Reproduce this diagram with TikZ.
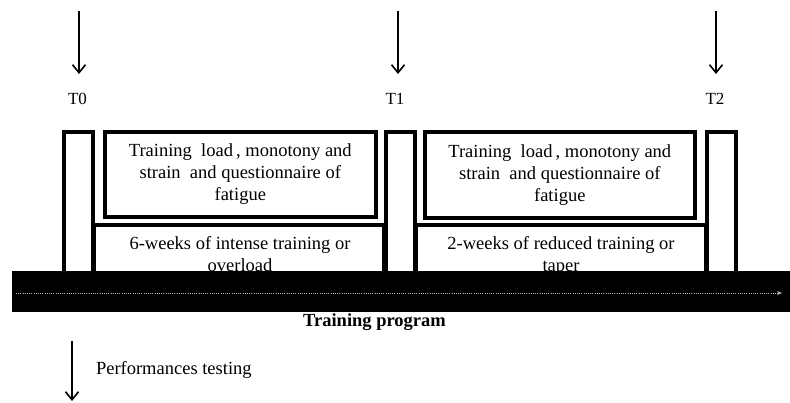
\documentclass[tikz,border=0pt]{standalone}
\usepackage{fontspec}
\setmainfont{Liberation Serif}
\usetikzlibrary{arrows.meta}
\begin{document}
\begin{tikzpicture}[x=1pt,y=-1pt,
  every node/.style={inner sep=0pt, outer sep=0pt},
  txt/.style={font=\fontsize{18.5}{22}\selectfont, align=center},
  lbl/.style={font=\fontsize{17}{20}\selectfont},
  frame/.style={draw=black, line width=3.6pt, fill=white},
  downarrow/.style={line width=1.6pt, -{Straight Barb[length=8pt,width=13pt,line width=1.6pt]}}
]
\useasboundingbox (0,0) rectangle (790,403);
% tall marker boxes
\draw[frame] (63.8,131.8) rectangle (93.2,295) coordinate (t0box);
\draw[frame] (385.8,131.8) rectangle (415.2,295) coordinate (t1box);
\draw[frame] (706.8,131.8) rectangle (736.2,295) coordinate (t2box);
% lower boxes
\node[frame, minimum width=290pt, minimum height=70pt, anchor=north west] (low1) at (94.2,225) {};
\node[frame, minimum width=290pt, minimum height=70pt, anchor=north west] (low2) at (416.2,225) {};
\node[txt, anchor=north] (low1t) at (240,236) {6-weeks of intense training or\\overload};
\node[txt, anchor=north] (low2t) at (561,236) {2-weeks of reduced training or\\taper};
% upper boxes
\node[frame, minimum width=271pt, minimum height=85pt, anchor=north west] (load1) at (104.8,131.8) {};
\node[frame, minimum width=270pt, minimum height=86pt, anchor=north west] (load2) at (424.8,131.8) {};
\node[txt] (load1t) at (load1.center) {Training\ \ load\,, monotony\ and\\strain\ \ and questionnaire of\\fatigue};
\node[txt] (load2t) at (load2.center) {Training\ \ load\,, monotony\ and\\strain\ \ and questionnaire of\\fatigue};
% black bar
\node[fill=black, minimum width=778pt, minimum height=41pt, anchor=north west] (bar) at (12,271) {};
\coordinate (dotA) at (16,293);
\coordinate (dotB) at (782,293);
\draw[gray!55, line width=0.7pt, dash pattern=on 1pt off 1.2pt, -{Stealth[length=5pt,width=4pt]}] (dotA) -- (dotB);
\node[font=\fontsize{18.5}{22}\selectfont\bfseries] (prog) at (374.5,322) {Training program};
% time point arrows
\coordinate (a0s) at (79,11); \coordinate (a0e) at (79,74);
\coordinate (a1s) at (398,11); \coordinate (a1e) at (398,74);
\coordinate (a2s) at (716,11); \coordinate (a2e) at (716,74);
\draw[downarrow] (a0s) -- (a0e);
\draw[downarrow] (a1s) -- (a1e);
\draw[downarrow] (a2s) -- (a2e);
\node[lbl] (T0) at (77.5,99) {T0};
\node[lbl] (T1) at (395,99) {T1};
\node[lbl] (T2) at (715,99) {T2};
% legend
\coordinate (ls) at (72,341); \coordinate (le) at (72,401);
\draw[downarrow] (ls) -- (le);
\node[txt, anchor=west] (perf) at (96,370) {Performances testing};
\end{tikzpicture}
\end{document}
